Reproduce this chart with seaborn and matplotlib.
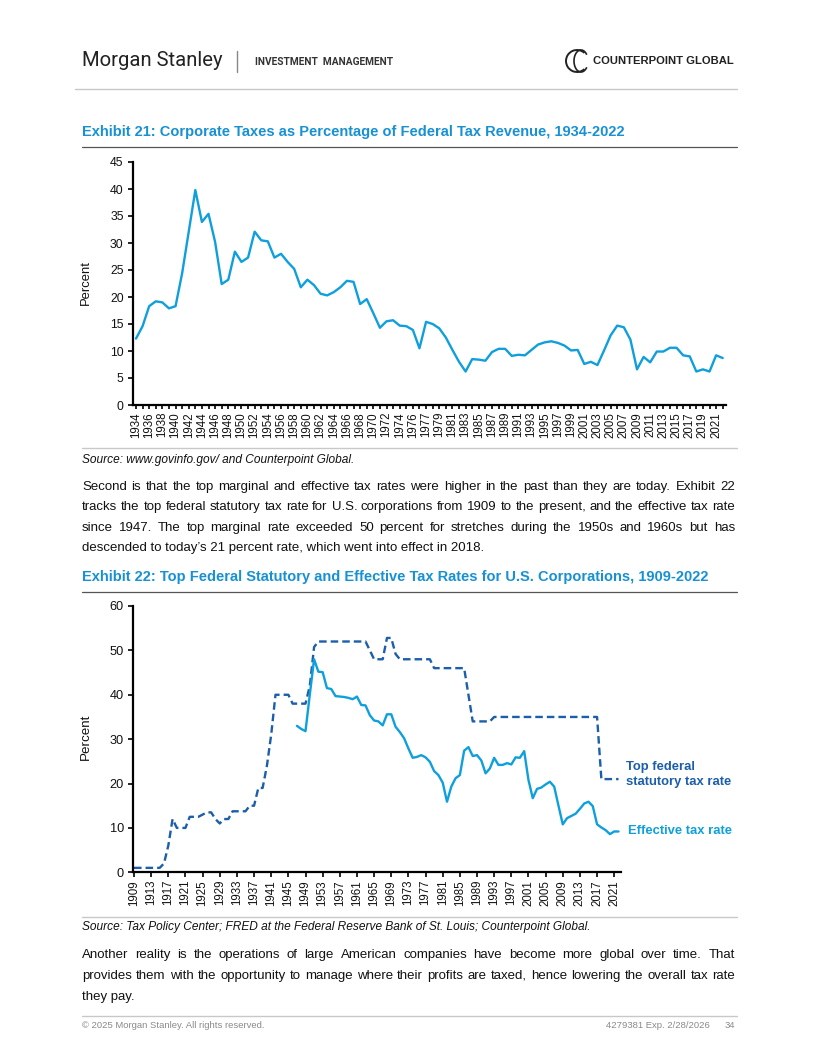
import matplotlib
matplotlib.use("Agg")
import matplotlib.pyplot as plt
import seaborn as sns
import pandas as pd
from matplotlib.patches import Arc
from matplotlib.lines import Line2D

# ---------------- data ----------------
# Exhibit 21: corporate taxes as % of federal tax revenue (fiscal years, incl. 1976 transition quarter)
corp_categories = [
    "1934", "1935", "1936", "1937", "1938", "1939", "1940", "1941", "1942", "1943",
    "1944", "1945", "1946", "1947", "1948", "1949", "1950", "1951", "1952", "1953",
    "1954", "1955", "1956", "1957", "1958", "1959", "1960", "1961", "1962", "1963",
    "1964", "1965", "1966", "1967", "1968", "1969", "1970", "1971", "1972", "1973",
    "1974", "1975", "1976", "TQ", "1977", "1978", "1979", "1980", "1981", "1982",
    "1983", "1984", "1985", "1986", "1987", "1988", "1989", "1990", "1991", "1992",
    "1993", "1994", "1995", "1996", "1997", "1998", "1999", "2000", "2001", "2002",
    "2003", "2004", "2005", "2006", "2007", "2008", "2009", "2010", "2011", "2012",
    "2013", "2014", "2015", "2016", "2017", "2018", "2019", "2020", "2021", "2022",
]
corp_share = [
    12.3, 14.6, 18.3, 19.2, 19.0, 17.9, 18.3, 24.4, 32.1, 39.8,
    33.9, 35.4, 30.2, 22.4, 23.2, 28.4, 26.5, 27.3, 32.1, 30.5,
    30.3, 27.3, 28.0, 26.5, 25.2, 21.8, 23.2, 22.2, 20.6, 20.3,
    20.9, 21.8, 23.0, 22.8, 18.7, 19.6, 17.0, 14.3, 15.5, 15.7,
    14.7, 14.6, 13.9, 10.5, 15.4, 15.0, 14.2, 12.5, 10.2, 8.0,
    6.2, 8.5, 8.4, 8.2, 9.8, 10.4, 10.4, 9.1, 9.3, 9.2,
    10.2, 11.2, 11.6, 11.8, 11.5, 11.0, 10.1, 10.2, 7.6, 8.0,
    7.4, 10.1, 12.9, 14.7, 14.4, 12.1, 6.6, 8.9, 7.9, 9.9,
    9.9, 10.6, 10.6, 9.2, 9.0, 6.2, 6.6, 6.2, 9.2, 8.7,
]

# Exhibit 22: top federal statutory rate 1909-2022
stat_years = list(range(1909, 2023))
stat_rate = [
    1, 1, 1, 1, 1, 1, 1, 2, 6, 12,                      # 1909-1918
    10, 10, 10, 12.5, 12.5, 12.5, 13, 13.5, 13.5, 12,   # 1919-1928
    11, 12, 12, 13.75, 13.75, 13.75, 13.75, 15, 15, 19, # 1929-1938
    19, 24, 31, 40, 40, 40, 40, 38, 38, 38,             # 1939-1948
    38, 42, 50.75, 52, 52, 52, 52, 52, 52, 52,          # 1949-1958
    52, 52, 52, 52, 52, 50, 48, 48, 48, 52.8,           # 1959-1968
    52.8, 49.2, 48, 48, 48, 48, 48, 48, 48, 48,         # 1969-1978
    46, 46, 46, 46, 46, 46, 46, 46, 40, 34,             # 1979-1988
    34, 34, 34, 34, 35, 35, 35, 35, 35, 35,             # 1989-1998
    35, 35, 35, 35, 35, 35, 35, 35, 35, 35,             # 1999-2008
    35, 35, 35, 35, 35, 35, 35, 35, 35, 21,             # 2009-2018
    21, 21, 21, 21,                                     # 2019-2022
]
# Effective tax rate 1947-2022
eff_years = list(range(1947, 2023))
eff_rate = [
    33.0, 32.3, 31.8, 40.0, 48.0, 45.2, 45.1, 41.5, 41.3, 39.7,   # 1947-1956
    39.6, 39.5, 39.3, 39.0, 39.6, 37.7, 37.6, 35.4, 34.2, 34.0,   # 1957-1966
    33.1, 35.6, 35.6, 32.8, 31.6, 30.2, 27.9, 25.8, 26.0, 26.4,   # 1967-1976
    25.9, 24.9, 22.8, 21.9, 20.2, 15.9, 19.3, 21.2, 21.9, 27.4,   # 1977-1986
    28.2, 26.2, 26.4, 25.2, 22.3, 23.4, 25.8, 24.2, 24.2, 24.6,   # 1987-1996
    24.3, 25.9, 25.8, 27.3, 20.8, 16.7, 18.8, 19.1, 19.8, 20.4,   # 1997-2006
    19.3, 15.0, 10.8, 12.2, 12.7, 13.2, 14.3, 15.5, 15.9, 14.9,   # 2007-2016
    10.8, 10.1, 9.5, 8.6, 9.2, 9.2,                               # 2017-2022
]
stat_xticks = list(range(1909, 2022, 4))

# ---------------- styling ----------------
W, H = 816, 1056
sns.set_theme(style="white")
plt.rcParams["font.family"] = ["Liberation Sans", "DejaVu Sans"]

C_LIGHT = "#0E9FDC"
C_DARK = "#1B5EA9"
C_TITLE = "#1791D3"
C_GRAY_RULE = "#C8C8C8"

fig = plt.figure(figsize=(W / 100, H / 100), dpi=100)
fig.patch.set_facecolor("white")


def fx(x):
    return x / W


def fy(y):
    return 1 - y / H


def hline(y, x0, x1, color, lw):
    fig.add_artist(Line2D([fx(x0), fx(x1)], [fy(y), fy(y)],
                          transform=fig.transFigure, color=color, lw=lw))


def text(x, y, s, **kw):
    kw.setdefault("va", "center")
    return fig.text(fx(x), fy(y), s, **kw)


renderer = fig.canvas.get_renderer()


def justified(lines, x0, x1, y0, dy, fs, last_left=True):
    for li, line in enumerate(lines):
        y = y0 + li * dy
        words = line.split(" ")
        if li == len(lines) - 1 and last_left:
            text(x0, y, line, fontsize=fs, color="#111111")
            continue
        objs = [text(0, y, w, fontsize=fs, color="#111111") for w in words]
        widths = [o.get_window_extent(renderer).width for o in objs]
        gap = (x1 - x0 - sum(widths)) / (len(words) - 1)
        x = x0
        for o, wd in zip(objs, widths):
            o.set_x(fx(x))
            x += wd + gap


# ---------------- header ----------------
text(82, 61, "Morgan Stanley", fontsize=14.6, color="#222222", family=["Roboto", "Liberation Sans"])
fig.add_artist(Line2D([fx(237), fx(237)], [fy(51), fy(72)],
                      transform=fig.transFigure, color="#888888", lw=1.0))
text(255, 62, "INVESTMENT  MANAGEMENT", fontsize=7.3, color="#333333",
     fontweight="bold", family=["Roboto", "Liberation Sans"])
fig.add_artist(Arc((fx(577), fy(61)), 22 / W, 22 / H, theta1=40, theta2=320,
                   transform=fig.transFigure, color="#222222", lw=1.4))
fig.add_artist(Arc((fx(581), fy(61)), 14 / W, 22 / H, theta1=40, theta2=320,
                   transform=fig.transFigure, color="#222222", lw=1.2))
text(593, 61, "COUNTERPOINT GLOBAL", fontsize=8.1, color="#222222", fontweight="bold")
hline(89, 75, 737, C_GRAY_RULE, 1.0)

# ---------------- Exhibit 21 ----------------
text(82, 132, "Exhibit 21: Corporate Taxes as Percentage of Federal Tax Revenue, 1934-2022",
     fontsize=10.5, color=C_TITLE, fontweight="bold")
hline(147, 82, 737, "#555555", 0.9)

ax1 = fig.add_axes([fx(132.7), fy(405), (726 - 132.7) / W, (405 - 162) / H])
df1 = pd.DataFrame({"pos": range(len(corp_categories)), "value": corp_share})
sns.lineplot(data=df1, x="pos", y="value", ax=ax1, color=C_LIGHT, lw=1.7)
ax1.set_xlim(-0.5, len(corp_categories) - 0.5)
ax1.set_ylim(0, 45)
ax1.set_yticks(range(0, 50, 5))
ax1.set_xticks(range(len(corp_categories)))
ax1.set_xticklabels([c if i % 2 == 0 else "" for i, c in enumerate(corp_categories)],
                    rotation=90, fontsize=8.3)
ax1.tick_params(axis="y", labelsize=8.8, left=True, length=3.5, width=1.2,
                direction="out", color="black", pad=3, labelcolor="#111111")
ax1.tick_params(axis="x", bottom=True, length=3, width=1.2, direction="out",
                color="black", pad=2, labelcolor="#111111")
ax1.set_xlabel("")
ax1.set_ylabel("Percent", fontsize=9.4, color="#111111")
ax1.yaxis.set_label_coords((92 - 132.7) / (726 - 132.7), (405 - 283) / 243)
for s in ("top", "right"):
    ax1.spines[s].set_visible(False)
for s in ("left", "bottom"):
    ax1.spines[s].set_color("black")
    ax1.spines[s].set_linewidth(1.6)
ax1.set_facecolor("white")

hline(448, 82, 737, C_GRAY_RULE, 1.0)
text(82, 460, "Source: www.govinfo.gov/ and Counterpoint Global.", fontsize=8.6,
     style="italic", color="#111111")

para1 = [
    "Second is that the top marginal and effective tax rates were higher in the past than they are today. Exhibit 22",
    "tracks the top federal statutory tax rate for U.S. corporations from 1909 to the present, and the effective tax rate",
    "since 1947. The top marginal rate exceeded 50 percent for stretches during the 1950s and 1960s but has",
    "descended to today\u2019s 21 percent rate, which went into effect in 2018.",
]
justified(para1, 82, 735, 487, 20.3, 9.55)

# ---------------- Exhibit 22 ----------------
text(82, 577, "Exhibit 22: Top Federal Statutory and Effective Tax Rates for U.S. Corporations, 1909-2022",
     fontsize=10.5, color=C_TITLE, fontweight="bold")
hline(592, 82, 737, "#555555", 0.9)

ax2 = fig.add_axes([fx(133), fy(872.3), (621 - 133) / W, (872.3 - 606) / H])
df_stat = pd.DataFrame({"year": stat_years, "rate": stat_rate})
df_eff = pd.DataFrame({"year": eff_years, "rate": eff_rate})
sns.lineplot(data=df_stat, x="year", y="rate", ax=ax2, color=C_DARK, lw=1.7)
ax2.lines[-1].set_dashes([3.2, 1.7])
sns.lineplot(data=df_eff, x="year", y="rate", ax=ax2, color=C_LIGHT, lw=1.7)
ax2.set_xlim(1908.77, 2022.58)
ax2.set_ylim(0, 60)
ax2.set_yticks(range(0, 70, 10))
ax2.set_xticks(stat_xticks)
ax2.set_xticklabels([str(y) for y in stat_xticks], rotation=90, fontsize=8.3)
ax2.tick_params(axis="y", labelsize=9.2, left=True, length=3.5, width=1.2,
                direction="out", color="black", pad=3, labelcolor="#111111")
ax2.tick_params(axis="x", bottom=True, length=3.5, width=1.2, direction="out",
                color="black", pad=2, labelcolor="#111111")
ax2.set_xlabel("")
ax2.set_ylabel("Percent", fontsize=9.6, color="#111111")
ax2.yaxis.set_label_coords((92 - 133) / (621 - 133), (872.3 - 737) / 266.3)
for s in ("top", "right"):
    ax2.spines[s].set_visible(False)
for s in ("left", "bottom"):
    ax2.spines[s].set_color("black")
    ax2.spines[s].set_linewidth(1.6)
ax2.set_facecolor("white")

text(626, 767, "Top federal", fontsize=9.4, color=C_DARK, fontweight="bold")
text(626, 782, "statutory tax rate", fontsize=9.4, color=C_DARK, fontweight="bold")
text(628, 831, "Effective tax rate", fontsize=9.4, color=C_LIGHT, fontweight="bold")

hline(917, 82, 737, C_GRAY_RULE, 1.0)
text(82, 927, "Source: Tax Policy Center; FRED at the Federal Reserve Bank of St. Louis; Counterpoint Global.",
     fontsize=8.6, style="italic", color="#111111")

para2 = [
    "Another reality is the operations of large American companies have become more global over time. That",
    "provides them with the opportunity to manage where their profits are taxed, hence lowering the overall tax rate",
    "they pay.",
]
justified(para2, 82, 735, 955, 21, 9.55)

# ---------------- footer ----------------
hline(1016, 82, 737, C_GRAY_RULE, 1.0)
text(82, 1026, "\u00a9 2025 Morgan Stanley. All rights reserved.", fontsize=6.8, color="#8A8A8A")
text(710, 1026, "4279381 Exp. 2/28/2026", fontsize=6.8, color="#8A8A8A", ha="right")
text(735, 1026, "34", fontsize=6.8, color="#8A8A8A", ha="right")

fig.savefig("out.png", dpi=100, facecolor="white")
